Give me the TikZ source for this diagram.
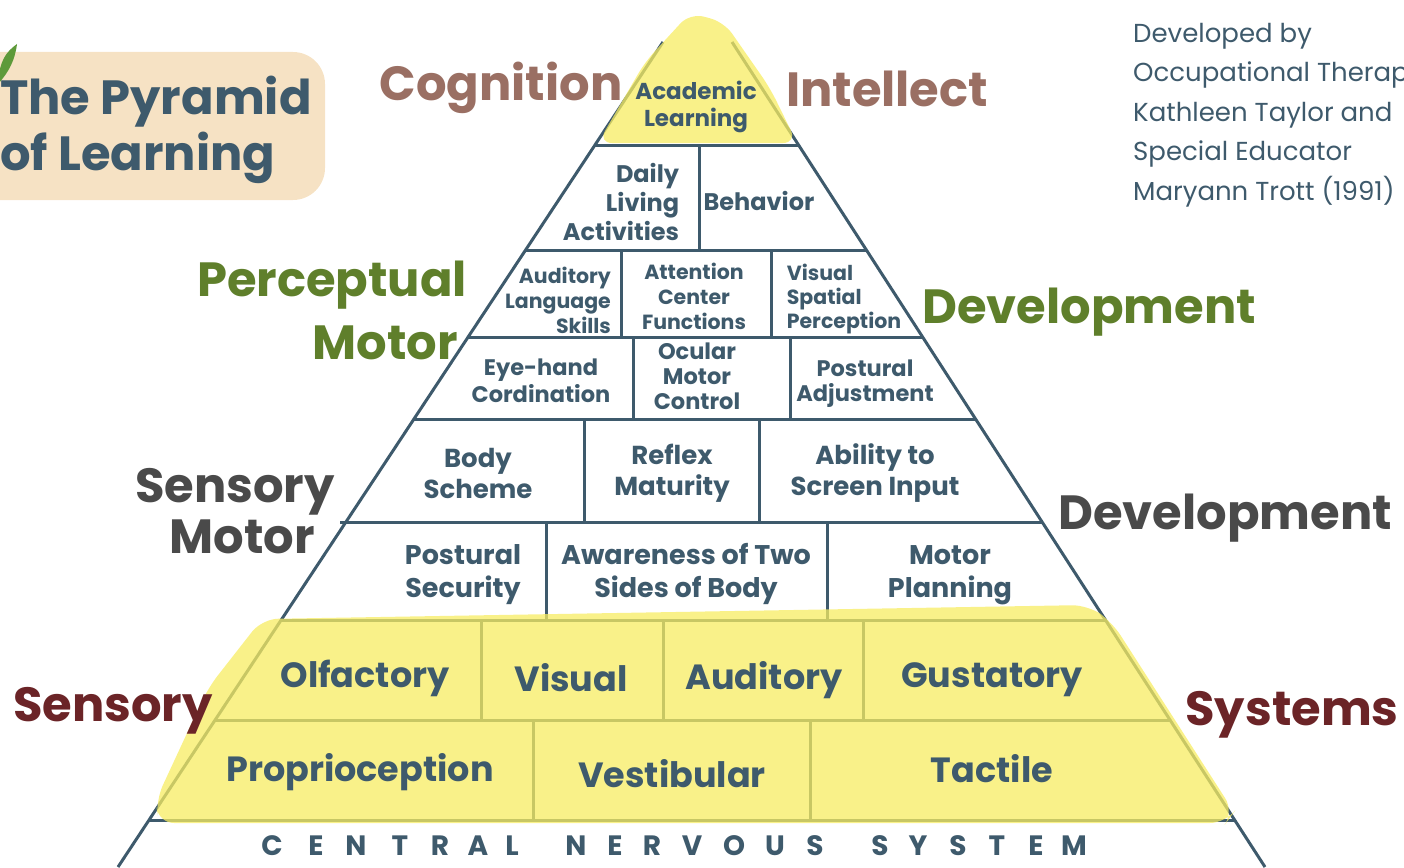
\documentclass[tikz,border=0pt]{standalone}
\usepackage{fontspec}
\setmainfont{Poppins}
\usepackage{tikz}
\definecolor{slate}{HTML}{3E5A6C}
\definecolor{cogbrown}{HTML}{9A6F63}
\definecolor{percgreen}{HTML}{5F7F2B}
\definecolor{sensgray}{HTML}{4A4A4A}
\definecolor{sysred}{HTML}{6B2427}
\definecolor{peach}{HTML}{F6E2C4}
\definecolor{marker}{HTML}{F7EC62}
\definecolor{leaf}{HTML}{5E9A3A}
\tikzset{
  edge/.style={slate, line width=3pt},
  bigword/.style={font=\bfseries\fontsize{48}{56}\selectfont, inner sep=0pt},
  cell/.style 2 args={text=slate, align=center, inner sep=0pt, font=\bfseries\fontsize{#1}{#2}\selectfont},
}

\begin{document}
\begin{tikzpicture}[x=1pt, y=-1pt]
    \useasboundingbox (0,0) rectangle (1404,867);
    \clip (0,0) rectangle (1404,867);
    % title box
    \fill[peach, rounded corners=32pt] (-40,52) rectangle (325,200);
    \fill[leaf] (-2,82) .. controls (0,60) and (6,52) .. (17,44) .. controls (15,60) and (9,72) .. (-2,84) -- cycle;
    \node[bigword, text=slate, align=left, anchor=west] (title) at (0,130) {The Pyramid\\of Learning};
    % pyramid outline
    \draw[edge] (663,42) -- (118,867);
    \draw[edge] (732,42) -- (1265,867);
    \draw[edge] (595,145) -- (798,145);
    \draw[edge] (526,250) -- (866,250);
    \draw[edge] (468,337) -- (922,337);
    \draw[edge] (414,419) -- (975,419);
    \draw[edge] (340,522) -- (1042,522);
    \draw[edge] (281,620) -- (1105,620);
    \draw[edge] (215,720) -- (1170,720);
    \draw[edge] (149,820) -- (1235,820);
    % cell dividers
    \draw[edge] (699,145) -- (699,250);
    \draw[edge] (621,250) -- (621,337) (771,250) -- (771,337);
    \draw[edge] (633,337) -- (633,419) (790,337) -- (790,419);
    \draw[edge] (584,419) -- (584,522) (759,419) -- (759,522);
    \draw[edge] (546,522) -- (546,620) (827,522) -- (827,620);
    \draw[edge] (481,620) -- (481,720) (663,620) -- (663,720) (863,620) -- (863,720);
    \draw[edge] (533,720) -- (533,820) (810,720) -- (810,820);
    % highlighter
    \fill[marker, opacity=.75, rounded corners=14pt] (598,143) -- (645,62) -- (690,13) -- (724,22) -- (770,88) -- (797,143) -- cycle;
    \fill[marker, opacity=.75, rounded corners=16pt] (262,619) -- (1088,605) -- (1112,622) -- (1234,812) -- (1226,823) -- (158,823) -- (156,800) -- (208,688) -- cycle;
    % side labels
    \node[bigword, text=cogbrown] (cognition) at (501,88) {Cognition};
    \node[bigword, text=cogbrown] (intellect) at (887,89) {Intellect};
    \node[bigword, text=percgreen] (perceptual) at (332,285) {Perceptual};
    \node[bigword, text=percgreen] (pmotor) at (385,343) {Motor};
    \node[bigword, text=percgreen] (pdevel) at (1089,312) {Development};
    \node[bigword, text=sensgray] (sensory) at (235,492) {Sensory};
    \node[bigword, text=sensgray] (smotor) at (242,537) {Motor};
    \node[bigword, text=sensgray] (sdevel) at (1225,518) {Development};
    \node[bigword, text=sysred] (sensys) at (113,711) {Sensory};
    \node[bigword, text=sysred] (systems) at (1292,715) {Systems};
    % credit
    \node[text=slate, align=left, anchor=west, inner sep=0pt, font=\fontsize{26}{39.5}\selectfont] (credit) at (1133,115)
        {Developed by\\Occupational Therapist\\Kathleen Taylor and\\Special Educator\\Maryann Trott (1991)};
    % cells
    \node[cell={23}{27}] (academic) at (696,107) {Academic\\Learning};
    \node[cell={24}{29}, align=right] (daily) at (621,202) {Daily\\Living\\Activities};
    \node[cell={24}{29}] (behavior) at (759,201) {Behavior};
    \node[cell={20.5}{25}, align=right] (audlang) at (558,300) {Auditory\\Language\\Skills};
    \node[cell={20.5}{25}] (attention) at (694,296) {Attention\\Center\\Functions};
    \node[cell={20.5}{24}, align=left] (visspat) at (844,299) {Visual\\Spatial\\Perception};
    \node[cell={22.5}{27}] (eyehand) at (541,381) {Eye-hand\\Cordination};
    \node[cell={22.5}{25}] (ocular) at (697,376) {Ocular\\Motor\\Control};
    \node[cell={22.5}{25}] (postadj) at (865,384) {Postural\\Adjustment};
    \node[cell={26}{31}] (body) at (478,473) {Body\\Scheme};
    \node[cell={26}{31}] (reflex) at (672,473) {Reflex\\Maturity};
    \node[cell={26}{31}] (ability) at (875,473) {Ability to\\Screen Input};
    \node[cell={27}{33}] (postsec) at (463,575) {Postural\\Security};
    \node[cell={27}{33}] (aware) at (686,574) {Awareness of Two\\Sides of Body};
    \node[cell={27}{33}] (motorplan) at (950,575) {Motor\\Planning};
    \node[cell={35}{38}] (olfactory) at (365,678) {Olfactory};
    \node[cell={35}{38}] (visual) at (571,678) {Visual};
    \node[cell={35}{38}] (auditory) at (764,680) {Auditory};
    \node[cell={35}{38}] (gustatory) at (992,680) {Gustatory};
    \node[cell={35}{38}] (proprio) at (360,772) {Proprioception};
    \node[cell={35}{38}] (vestib) at (672,774) {Vestibular};
    \node[cell={35}{38}] (tactile) at (992,769) {Tactile};
    % central nervous system, spaced out
    \foreach \ch/\px in {C/272, E/316, N/356, T/400, R/440, A/478, L/512,
                         N/576, E/615, R/652, V/692, O/734, U/775, S/815,
                         S/880, Y/918, S/958, T/997, E/1036, M/1074}
        \node[cell={28}{30}] at (\px,846) {\ch};
\end{tikzpicture}
\end{document}
